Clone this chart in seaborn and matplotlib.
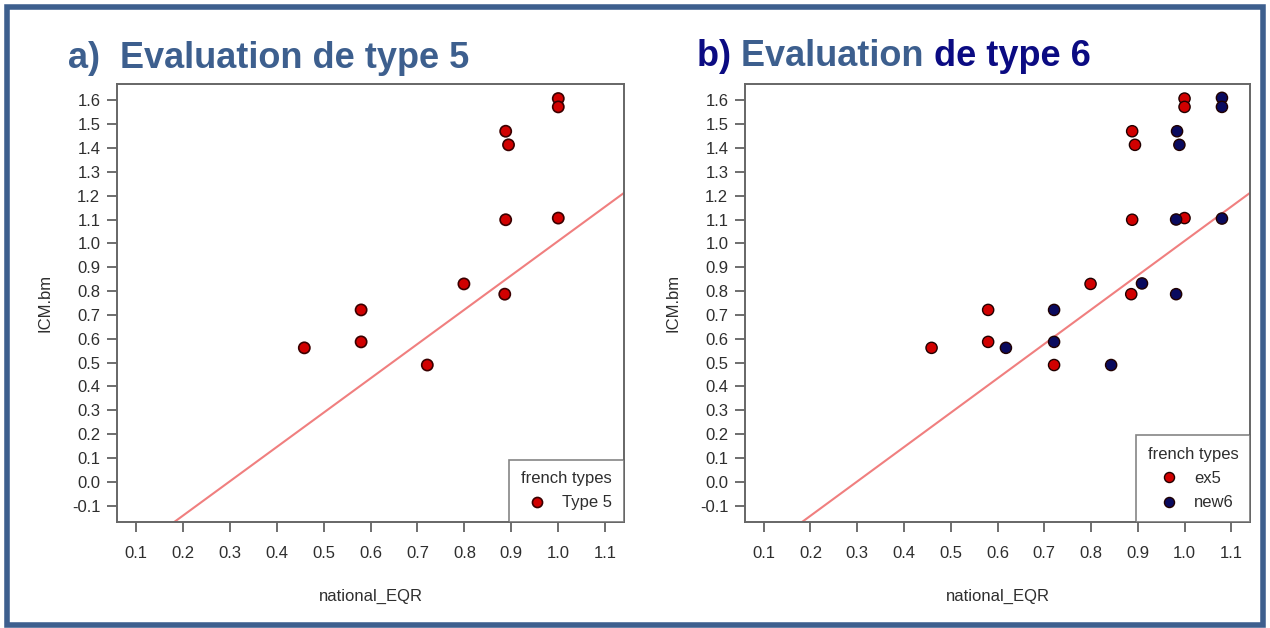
import numpy as np
import pandas as pd
import matplotlib
matplotlib.use("Agg")
import matplotlib.pyplot as plt
import seaborn as sns
from matplotlib.patches import Rectangle

# ---------------- data ----------------
ex5_eqr = [0.459, 0.580, 0.580, 0.721, 0.799, 0.888, 0.894, 0.888, 0.886, 1.000, 1.000, 1.000]
ex5_icm = [0.562, 0.721, 0.587, 0.490, 0.830, 1.470, 1.413, 1.099, 0.787, 1.607, 1.572, 1.106]
new6_eqr = [0.618, 0.721, 0.721, 0.843, 0.909, 0.982, 0.984, 0.989, 0.982, 1.080, 1.080, 1.080]
new6_icm = [0.562, 0.721, 0.587, 0.490, 0.832, 0.787, 1.470, 1.413, 1.100, 1.610, 1.572, 1.104]
ref_intercept = -0.43
ref_slope = 1.44
x_ticks = [0.1, 0.2, 0.3, 0.4, 0.5, 0.6, 0.7, 0.8, 0.9, 1.0, 1.1]
y_ticks = [-0.1, 0.0, 0.1, 0.2, 0.3, 0.4, 0.5, 0.6, 0.7, 0.8, 0.9, 1.0, 1.1, 1.2, 1.3, 1.4, 1.5, 1.6]
label_a = "Type 5"
label_ex5 = "ex5"
label_new6 = "new6"
legend_title = "french types"

df_a = pd.DataFrame({"national_EQR": ex5_eqr, "ICM.bm": ex5_icm,
                     legend_title: [label_a] * len(ex5_eqr)})
df_b = pd.DataFrame({"national_EQR": ex5_eqr + new6_eqr, "ICM.bm": ex5_icm + new6_icm,
                     legend_title: [label_ex5] * len(ex5_eqr) + [label_new6] * len(new6_eqr)})

# ---------------- style ----------------
sns.set_style("white")
plt.rcParams["font.family"] = ["Liberation Sans", "DejaVu Sans"]

RED = "#d10000"
NAVY = "#0a0a5e"
STEEL = "#3d5f8e"
DARKNAVY = "#0b0b82"
TXT = "#2e2e2e"
FS = 12

fig = plt.figure(figsize=(12.7, 6.28), dpi=100)
fig.patch.set_facecolor("white")
fig.patches.append(Rectangle((0.0055, 0.004), 0.989, 0.985, transform=fig.transFigure,
                             fill=False, edgecolor=STEEL, linewidth=4, zorder=0))

ax_a = fig.add_axes([117 / 1270, 1 - 522 / 628, 507 / 1270, 438 / 628])
ax_b = fig.add_axes([745 / 1270, 1 - 522 / 628, 505 / 1270, 438 / 628])

def style_axes(ax):
    xr = x_ticks[-1] - x_ticks[0]
    yr = y_ticks[-1] - y_ticks[0]
    ax.set_xlim(x_ticks[0] - 0.04 * xr, x_ticks[-1] + 0.04 * xr)
    ax.set_ylim(y_ticks[0] - 0.04 * yr, y_ticks[-1] + 0.04 * yr)
    ax.set_xticks(x_ticks)
    ax.set_xticklabels([f"{t:.1f}" for t in x_ticks])
    ax.set_yticks(y_ticks)
    ax.set_yticklabels([f"{t:.1f}" for t in y_ticks])
    ax.tick_params(axis="both", direction="out", length=7, width=1.2, color="#555555",
                   labelsize=FS, labelcolor=TXT, bottom=True, left=True)
    ax.tick_params(axis="x", pad=10)
    ax.tick_params(axis="y", pad=5)
    for s in ax.spines.values():
        s.set_color("#666666")
        s.set_linewidth(1.4)
    ax.set_xlabel("national_EQR", fontsize=FS, color=TXT, labelpad=20)
    ax.set_ylabel("ICM.bm", fontsize=FS, color=TXT, labelpad=14)
    ax.grid(False)
    ax.axline((0, ref_intercept), slope=ref_slope, color="#f07f7f", linewidth=1.5, zorder=1)

def style_legend(ax):
    leg = ax.legend(loc="lower right", borderaxespad=0, title=legend_title,
                    fontsize=FS, title_fontsize=FS, frameon=True, fancybox=False,
                    edgecolor="#666666", handletextpad=0.5, borderpad=0.7,
                    labelspacing=0.55, markerscale=0.9)
    leg.get_frame().set_linewidth(1.2)
    leg.get_title().set_color(TXT)
    for t in leg.get_texts():
        t.set_color(TXT)

# panel a
sns.scatterplot(data=df_a, x="national_EQR", y="ICM.bm", hue=legend_title,
                palette={label_a: RED}, s=65, edgecolor="#3a0000", linewidth=1.2,
                ax=ax_a, zorder=3)
style_axes(ax_a)
style_legend(ax_a)

# panel b
sns.scatterplot(data=df_b, x="national_EQR", y="ICM.bm", hue=legend_title,
                palette={label_ex5: RED, label_new6: NAVY}, s=65, edgecolor="#200000",
                linewidth=1.0, ax=ax_b, zorder=3)
style_axes(ax_b)
style_legend(ax_b)

# titles
title_font = ["Liberation Sans Narrow", "Liberation Sans", "DejaVu Sans"]
fig.text(68 / 1270, 1 - 68 / 628, "a)  Evaluation de type 5", fontsize=26, fontweight="bold",
         color=STEEL, family=title_font, ha="left", va="baseline")

t1 = fig.text(697 / 1270, 1 - 66 / 628, "b) ", fontsize=26, fontweight="bold",
              color=DARKNAVY, family=title_font, ha="left", va="baseline")
t2 = fig.text(0, 0, "Evaluation ", fontsize=26, fontweight="bold", color=STEEL,
              family=title_font, ha="left", va="baseline")
t3 = fig.text(0, 0, "de type 6", fontsize=26, fontweight="bold", color=DARKNAVY,
              family=title_font, ha="left", va="baseline")
fig.canvas.draw()
r = fig.canvas.get_renderer()
bb1 = t1.get_window_extent(r)
t2.set_position(((bb1.x1) / fig.bbox.width, 1 - 66 / 628))
fig.canvas.draw()
bb2 = t2.get_window_extent(r)
t3.set_position(((bb2.x1) / fig.bbox.width, 1 - 66 / 628))

fig.savefig("out.png", dpi=100, facecolor="white")
